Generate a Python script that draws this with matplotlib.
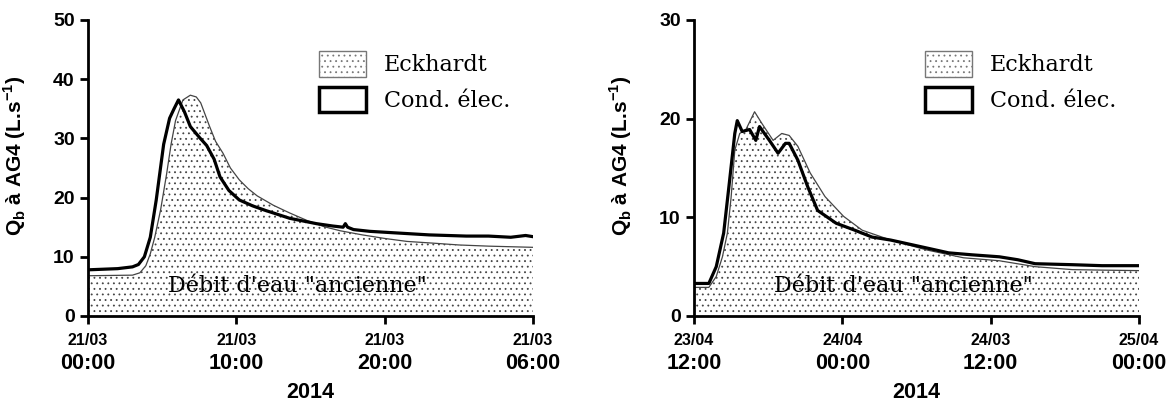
import numpy as np
import matplotlib
matplotlib.use("Agg")
import matplotlib.pyplot as plt
from matplotlib.patches import Patch

plt.rcParams['font.family'] = ['Liberation Sans', 'DejaVu Sans']
plt.rcParams['mathtext.fontset'] = 'custom'
plt.rcParams['mathtext.rm'] = 'Liberation Sans:bold'
plt.rcParams['mathtext.bf'] = 'Liberation Sans:bold'
plt.rcParams['hatch.linewidth'] = 0.6
plt.rcParams['hatch.color'] = '#444444'

# --- event 1 : 21/03 (hours since 21/03 00:00)
t1_cond = [0, 1, 2, 3, 3.4, 3.8, 4.2, 4.6, 5.1, 5.5, 5.8, 6.1, 6.5, 6.9, 7.5, 8.0, 8.5,
           8.9, 9.5, 10.2, 11.1, 12.0, 12.5, 13.6, 14.8, 15.4, 16.5, 17.2, 17.35, 17.5,
           17.9, 19, 21, 23, 25.5, 27, 28.5, 29.5, 30]
q1_cond = [7.8, 7.9, 8.0, 8.3, 8.7, 10, 13.3, 19.6, 29, 33.4, 35, 36.5, 34.5, 32, 30.2, 28.8, 26.5,
           23.5, 21.2, 19.6, 18.6, 17.8, 17.4, 16.5, 15.9, 15.6, 15.2, 15.0, 15.6, 15.0,
           14.6, 14.3, 14.0, 13.7, 13.5, 13.5, 13.3, 13.6, 13.4]
t1_eck = [0, 3, 3.5, 3.9, 4.2, 4.5, 4.9, 5.3, 5.6, 5.9, 6.4, 6.9, 7.3, 7.6, 7.9, 8.2, 8.6, 9.1,
          9.6, 10.2, 10.8, 11.4, 12.5, 13.6, 14.8, 15.9, 17, 18.5, 20, 21.5, 23.3, 25, 27, 30]
q1_eck = [6.8, 6.9, 7.3, 8.5, 10.5, 13.3, 18, 24, 29, 33, 36.5, 37.3, 37, 36, 34, 32, 29.5, 27.5,
          25, 23, 21.5, 20.3, 18.7, 17.4, 16.1, 15.1, 14.4, 13.7, 13.1, 12.6, 12.3, 12.0, 11.8, 11.6]

# --- event 2 : 23/04 (hours since 23/04 12:00)
t2_cond = [0, 1.2, 1.8, 2.4, 2.85, 3.3, 3.5, 3.9, 4.5, 5.0, 5.3, 6.1, 6.8, 7.4, 7.7, 8.4, 9.2,
           10.0, 11.5, 13, 14.4, 15.9, 18.8, 20.6, 22.5, 24.7, 26.2, 27.6, 30.6, 33, 36]
q2_cond = [3.3, 3.3, 5.0, 8.4, 13.4, 18.5, 19.8, 18.7, 18.9, 17.8, 19.2, 17.8, 16.5, 17.5, 17.5, 15.8, 13.1,
           10.7, 9.4, 8.7, 8.0, 7.7, 6.9, 6.4, 6.2, 6.0, 5.7, 5.3, 5.2, 5.1, 5.1]
t2_eck = [0, 1.2, 1.8, 2.3, 2.7, 3.0, 3.3, 3.7, 4.2, 4.9, 5.5, 6.4, 7.1, 7.7, 8.4, 9.4, 10.6,
          12.1, 13.6, 15.9, 18.8, 21.8, 24.7, 27.6, 30.6, 33, 36]
q2_eck = [2.9, 2.9, 4.0, 6.0, 8.4, 12, 16.8, 18.5, 18.9, 20.7, 19.5, 17.8, 18.5, 18.3, 17.2, 14.5, 12.1,
          10.1, 8.7, 7.7, 6.7, 5.9, 5.6, 5.0, 4.7, 4.65, 4.6]

panels = [
    dict(t_c=t1_cond, q_c=q1_cond, t_e=t1_eck, q_e=q1_eck, xmax=30, ymax=50,
         yticks=[0, 10, 20, 30, 40, 50], xticks=[0, 10, 20, 30],
         dates=['21/03', '21/03', '21/03', '21/03'],
         times=['00:00', '10:00', '20:00', '06:00'], left=88 / 1171),
    dict(t_c=t2_cond, q_c=q2_cond, t_e=t2_eck, q_e=q2_eck, xmax=36, ymax=30,
         yticks=[0, 10, 20, 30], xticks=[0, 12, 24, 36],
         dates=['23/04', '24/04', '24/03', '25/04'],
         times=['12:00', '00:00', '12:00', '00:00'], left=694 / 1171),
]

fig = plt.figure(figsize=(11.71, 4.07), dpi=100)

for p in panels:
    ax = fig.add_axes([p['left'], 91 / 407, 445 / 1171, 296 / 407])
    ax.fill_between(p['t_e'], 0, p['q_e'], facecolor='white', edgecolor='#444444',
                    hatch='...', linewidth=0)
    ax.plot(p['t_e'], p['q_e'], color='#444444', lw=0.9)
    ax.plot(p['t_c'], p['q_c'], color='black', lw=2.3)

    ax.set_xlim(0, p['xmax'])
    ax.set_ylim(0, p['ymax'])
    ax.spines['top'].set_visible(False)
    ax.spines['right'].set_visible(False)
    ax.spines['left'].set_linewidth(2)
    ax.spines['bottom'].set_linewidth(2)
    ax.tick_params(width=2, length=6, direction='out')
    ax.set_yticks(p['yticks'])
    ax.set_yticklabels([str(v) for v in p['yticks']], fontsize=14, fontweight='bold')
    ax.set_xticks(p['xticks'])
    ax.set_xticklabels([])
    for x, d, tm in zip(p['xticks'], p['dates'], p['times']):
        ax.text(x, -0.083, d, transform=ax.get_xaxis_transform(), ha='center', va='center',
                fontsize=11.5, fontweight='bold')
        ax.text(x, -0.16, tm, transform=ax.get_xaxis_transform(), ha='center', va='center',
                fontsize=15.5, fontweight='bold')
    ax.text(0.5, -0.26, '2014', transform=ax.transAxes, ha='center', va='center',
            fontsize=15.5, fontweight='bold')

    ax.set_ylabel(r'Q$_\mathbf{b}$ à AG4 (L.s$^\mathbf{-1}$)', fontsize=15, fontweight='bold')
    ax.yaxis.set_label_coords(-0.135, 0.54)

    ax.text(0.47, 0.1, 'Débit d\'eau "ancienne"', transform=ax.transAxes, ha='center',
            va='center', fontsize=16, family='DejaVu Serif')

    handles = [Patch(facecolor='white', edgecolor='#777777', hatch='...', linewidth=1),
               Patch(facecolor='white', edgecolor='black', linewidth=2.5)]
    ax.legend(handles, ['Eckhardt', 'Cond. élec.'], loc='upper left',
              bbox_to_anchor=(0.52, 0.895), frameon=False, borderpad=0, borderaxespad=0,
              handlelength=2.1, handleheight=1.4, handletextpad=0.8, labelspacing=0.45,
              prop={'family': 'DejaVu Serif', 'size': 16})

fig.savefig('out.png', dpi=100)
